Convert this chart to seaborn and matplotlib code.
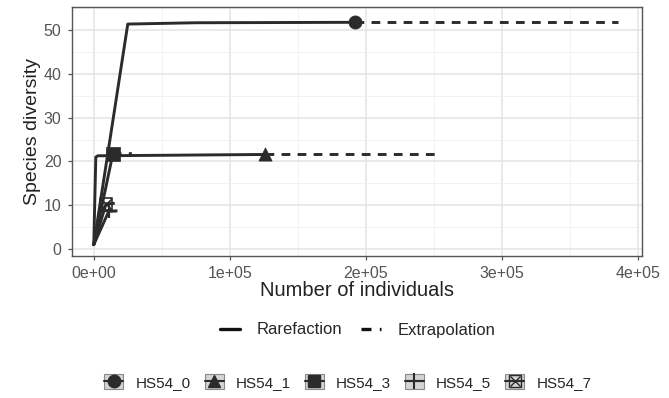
import matplotlib
matplotlib.use("Agg")
import matplotlib.pyplot as plt
from matplotlib.lines import Line2D
from matplotlib.patches import Patch
from matplotlib.legend_handler import HandlerTuple
from matplotlib.ticker import MultipleLocator
import seaborn as sns

sites = ["HS54_0", "HS54_1", "HS54_3", "HS54_5", "HS54_7"]
markers = ["o", "^", "s", "+", "s"]

# rarefaction curves (x = number of individuals, y = species diversity)
rare_x = {
    "HS54_0": [1, 25000, 75000, 192000],
    "HS54_1": [1, 1500, 3000, 126000],
    "HS54_3": [1, 14000],
    "HS54_5": [1, 11000],
    "HS54_7": [1, 9000],
}
rare_y = {
    "HS54_0": [1, 51.4, 51.7, 51.8],
    "HS54_1": [1, 21.0, 21.3, 21.6],
    "HS54_3": [1, 21.7],
    "HS54_5": [1, 8.6],
    "HS54_7": [1, 10.3],
}
# extrapolation curves
extra_x = {
    "HS54_0": [192000, 385000],
    "HS54_1": [126000, 253000],
    "HS54_3": [14000, 28000],
    "HS54_5": [11000, 22000],
    "HS54_7": [9000, 18000],
}
extra_y = {
    "HS54_0": [51.8, 51.8],
    "HS54_1": [21.6, 21.6],
    "HS54_3": [21.7, 21.8],
    "HS54_5": [8.6, 8.8],
    "HS54_7": [10.3, 10.5],
}
obs_x = [192000, 126000, 14000, 11000, 9000]
obs_y = [51.8, 21.6, 21.7, 8.6, 10.3]

xticks = [0, 100000, 200000, 300000, 400000]
xtick_labels = ["0e+00", "1e+05", "2e+05", "3e+05", "4e+05"]
yticks = [0, 10, 20, 30, 40, 50]

sns.set_theme(style="white")
plt.rcParams["font.family"] = ["Liberation Sans", "DejaVu Sans"]

fig = plt.figure(figsize=(6.69, 3.98), dpi=100)
ax = fig.add_axes([72 / 669, 1 - 256 / 398, (642 - 72) / 669, (256 - 7) / 398])

line_col = "#2b2b2b"
dash = [3, 2.5]
for i, s in enumerate(sites):
    sns.lineplot(x=rare_x[s], y=rare_y[s], ax=ax, color=line_col, lw=2.1,
                 estimator=None, sort=False)
    sns.lineplot(x=extra_x[s], y=extra_y[s], ax=ax, color=line_col, lw=2.1,
                 estimator=None, sort=False)
    ax.lines[-1].set_dashes(dash)
    m = markers[i]
    if s == "HS54_5":
        sns.scatterplot(x=[obs_x[i]], y=[obs_y[i]], ax=ax, marker="+", color=line_col,
                        s=110, linewidth=1.6, zorder=5)
    elif s == "HS54_7":
        sns.scatterplot(x=[obs_x[i]], y=[obs_y[i]], ax=ax, marker="s", facecolor="none",
                        edgecolor=line_col, s=80, linewidth=1.2, zorder=5)
        sns.scatterplot(x=[obs_x[i]], y=[obs_y[i]], ax=ax, marker="x", color=line_col,
                        s=60, linewidth=1.2, zorder=5)
    else:
        sns.scatterplot(x=[obs_x[i]], y=[obs_y[i]], ax=ax, marker=m, color=line_col,
                        s=90, edgecolor=line_col, linewidth=0.5, zorder=5)

ax.set_xlim(-16000, 403000)
ax.set_ylim(-1.6, 55.3)
ax.set_xticks(xticks)
ax.set_xticklabels(xtick_labels)
ax.set_yticks(yticks)
ax.xaxis.set_minor_locator(MultipleLocator(50000))
ax.yaxis.set_minor_locator(MultipleLocator(5))
ax.grid(True, which="major", color="#e4e4e4", lw=1.1)
ax.grid(True, which="minor", color="#f0f0f0", lw=0.6)
ax.set_axisbelow(True)
for sp in ax.spines.values():
    sp.set_color("#555555")
    sp.set_linewidth(1.0)
ax.tick_params(axis="both", which="major", length=3, width=0.9, color="#555555",
               labelsize=11.5, labelcolor="#555555", bottom=True, left=True, pad=4.5)
ax.tick_params(which="minor", length=0)
ax.set_xlabel("Number of individuals", fontsize=14.5, color="#222222", labelpad=0)
ax.set_ylabel("Species diversity", fontsize=14, color="#222222", labelpad=2)

# legend 1: line types
h1 = [Line2D([], [], color="#111111", lw=2.4),
      Line2D([], [], color="#111111", lw=2.4, dashes=dash)]
fig.legend(h1, ["Rarefaction", "Extrapolation"], loc="center",
           bbox_to_anchor=(0.535, 1 - 330 / 398), ncol=2, frameon=False,
           fontsize=12, handlelength=1.2, columnspacing=1.1, handletextpad=1.0)

# legend 2: sites (grey key boxes with marker and line)
def key(m, s):
    box = Patch(facecolor="#d4d4d4", edgecolor="#8a8a8a", lw=0.8)
    ln = Line2D([], [], color=line_col, lw=1.5)
    if s == "HS54_5":
        mk = Line2D([], [], color=line_col, lw=0, marker="+", markersize=12, mew=1.5)
        return (box, ln, mk)
    if s == "HS54_7":
        mk1 = Line2D([], [], color=line_col, lw=0, marker="s", markersize=9,
                     markerfacecolor="none", mew=1.0)
        mk2 = Line2D([], [], color=line_col, lw=0, marker="x", markersize=7, mew=1.0)
        return (box, ln, mk1, mk2)
    mk = Line2D([], [], color=line_col, lw=0, marker=m, markersize=9,
                markerfacecolor=line_col, markeredgecolor=line_col)
    return (box, ln, mk)

h2 = [key(m, s) for m, s in zip(markers, sites)]
fig.legend(h2, sites, loc="center", bbox_to_anchor=(0.52, 1 - 382 / 398),
           ncol=5, frameon=False, fontsize=11, handlelength=1.25, handleheight=1.1,
           columnspacing=0.9, handletextpad=0.8,
           handler_map={tuple: HandlerTuple(ndivide=1, pad=0)})

fig.savefig("out.png", dpi=100)
